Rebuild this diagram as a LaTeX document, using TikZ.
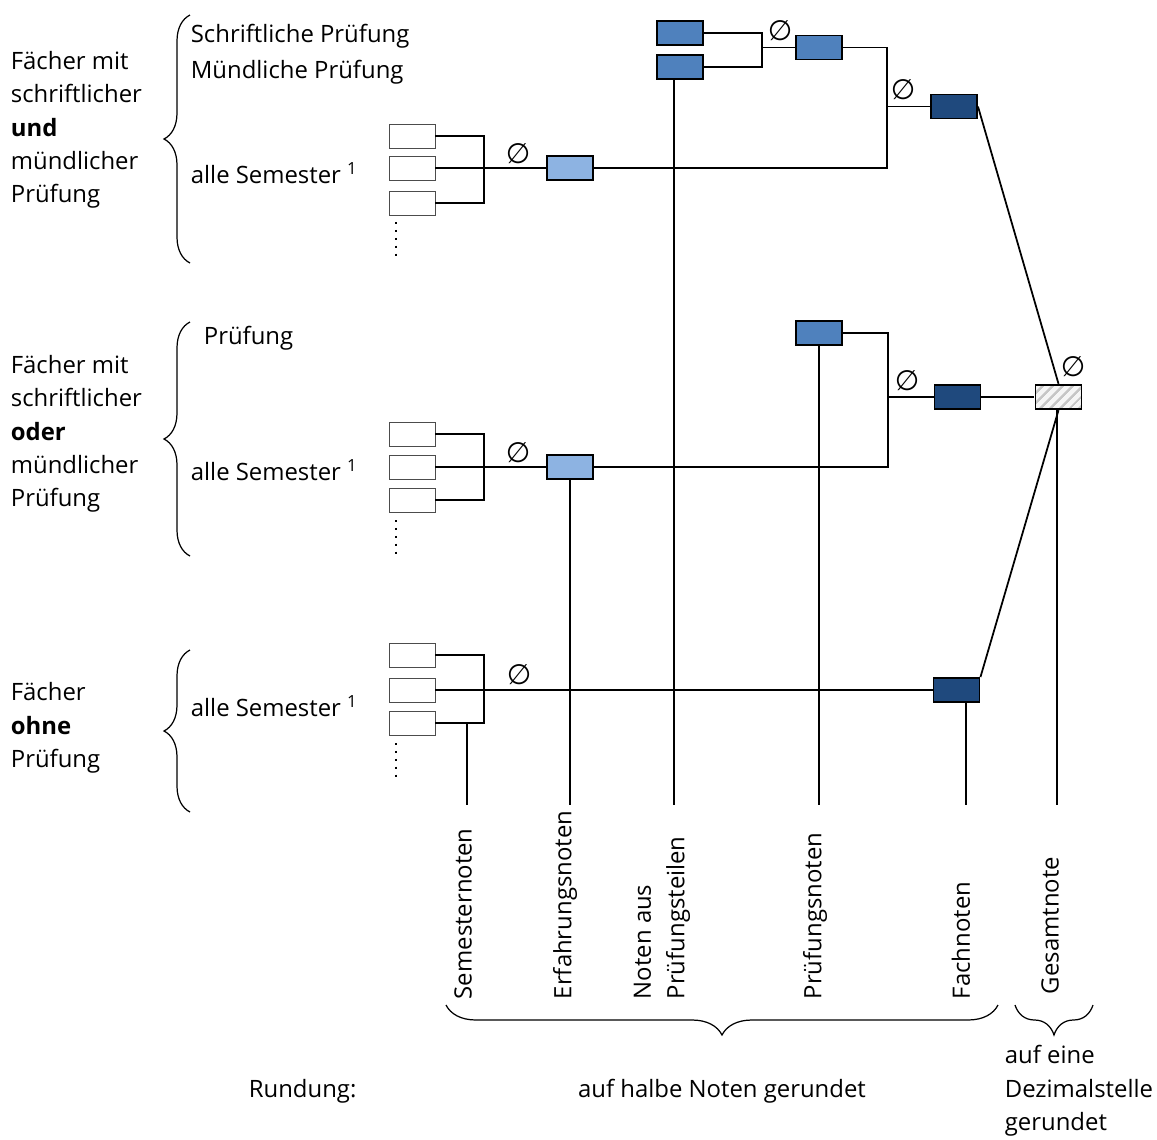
\documentclass[tikz,border=0pt]{standalone}
\usepackage{fontspec}
\setmainfont{Open Sans}
\newfontfamily\symfont{DejaVu Sans}
\usepackage{xcolor}
\usetikzlibrary{decorations.pathreplacing,patterns.meta}

\definecolor{hellblau}{HTML}{8DB3E2}
\definecolor{mittelblau}{HTML}{4F81BD}
\definecolor{dunkelblau}{HTML}{1F497D}

\begin{document}
\begin{tikzpicture}[
    x=0.02cm, y=-0.02cm,
    every node/.style={font=\fontsize{13.6}{19}\selectfont, inner sep=0pt},
    every path/.style={line width=1pt},
    semester/.style={draw=black!70, fill=white, line width=0.5pt, minimum width=0.92cm, minimum height=0.48cm},
    notebox/.style={draw=black, line width=1.1pt, minimum width=0.92cm, minimum height=0.48cm},
    erfahrung/.style={notebox, fill=hellblau},
    pruefung/.style={notebox, fill=mittelblau},
    fach/.style={notebox, fill=dunkelblau},
    gesamt/.style={notebox, preaction={fill=gray!8}, pattern={Lines[angle=45, distance=4pt, line width=1.4pt]}, pattern color=gray!45},
    avg/.style={font=\symfont\fontsize{16}{16}\selectfont},
    punkte/.style={line width=1.3pt, dash pattern=on 1.3pt off 3.2pt},
    klammer/.style={decorate, decoration={brace, amplitude=0.52cm}, line width=0.7pt},
    unterklammer/.style={decorate, decoration={brace, amplitude=0.6cm}, line width=0.7pt}
]
\useasboundingbox (0,0) rectangle (1157,1140);

% Gruppen links
\node[anchor=west, align=left] (t1) at (10,130) {F\"acher mit\\schriftlicher\\\textbf{und}\\m\"undlicher\\Pr\"ufung};
\node[anchor=west, align=left] (t2) at (10,434) {F\"acher mit\\schriftlicher\\\textbf{oder}\\m\"undlicher\\Pr\"ufung};
\node[anchor=west, align=left] (t3) at (10,728) {F\"acher\\\textbf{ohne}\\Pr\"ufung};
\draw[klammer] (190,263) -- (190,15);
\draw[klammer] (190,556) -- (190,322);
\draw[klammer] (190,812) -- (190,650);

% Texte in den Klammern
\node[anchor=west] (schr) at (190,36) {Schriftliche Pr\"ufung};
\node[anchor=west] (muen) at (190,72) {M\"undliche Pr\"ufung};
\node[anchor=west] (sem1) at (190,173) {alle Semester \textsuperscript{1}};
\node[anchor=west] (pr2) at (203,338) {Pr\"ufung};
\node[anchor=west] (sem2) at (190,470) {alle Semester \textsuperscript{1}};
\node[anchor=west] (sem3) at (190,706) {alle Semester \textsuperscript{1}};

% Semesternoten
\node[semester] (s11) at (412,136) {};
\node[semester] (s12) at (412,168) {};
\node[semester] (s13) at (412,203) {};
\node[semester] (s21) at (412,434) {};
\node[semester] (s22) at (412,467) {};
\node[semester] (s23) at (412,500) {};
\node[semester] (s31) at (412,655) {};
\node[semester] (s32) at (412,690) {};
\node[semester] (s33) at (412,723) {};
\draw[punkte] (396,222) -- (396,256);
\draw[punkte] (396,520) -- (396,554);
\draw[punkte] (396,743) -- (396,777);

% Erfahrungs-, Pruefungs- und Fachnoten
\node[erfahrung] (e1) at (570,168) {};
\node[erfahrung] (e2) at (570,467) {};
\node[pruefung] (p11) at (680,33) {};
\node[pruefung] (p12) at (680,67) {};
\node[pruefung] (p1) at (819,47.5) {};
\node[pruefung] (p2) at (819,333) {};
\node[fach] (f1) at (954,106.5) {};
\node[fach] (f2) at (957.5,397) {};
\node[fach] (f3) at (956.5,690) {};
\node[gesamt] (g) at (1058.5,397) {};

% Knoten der Verbindungen
\coordinate (k11) at (484,168);
\coordinate (k21) at (484,467);
\coordinate (k31) at (484,690);
\coordinate (kt) at (762,47.5);
\coordinate (k1) at (887,106.5);
\coordinate (k2) at (888,397);
\coordinate (uSem) at (467,805);
\coordinate (uErf) at (570,805);
\coordinate (uTeil) at (674,805);
\coordinate (uPruef) at (819,805);
\coordinate (uFach) at (966,805);
\coordinate (uGes) at (1057,805);

% Verbindungen
\draw (s11.east) -| (k11) |- (s13.east);
\draw (s12.east) -- (e1.west);
\draw (s21.east) -| (k21) |- (s23.east);
\draw (s22.east) -- (e2.west);
\draw (s31.east) -| (k31) |- (s33.east);
\draw (s32.east) -- (f3.west);
\draw (p11.east) -| (kt) |- (p12.east);
\draw (kt) -- (p1.west);
\draw (p1.east) -| (k1) |- (e1.east);
\draw (k1) -- (f1.west);
\draw (p2.east) -| (k2) |- (e2.east);
\draw (k2) -- (f2.west);
\draw (f1.east) -- (g.north);
\draw (f2.east) -- (g.west);
\draw (f3.north east) -- (g.south);

% Linien nach unten
\draw (s33.east -| uSem) -- (uSem);
\draw (e2.south) -- (uErf);
\draw (p12.south -| uTeil) -- (uTeil);
\draw (p2.south) -- (uPruef);
\draw (f3.south -| uFach) -- (uFach);
\draw (g.south -| uGes) -- (uGes);

% Mittelwerte
\node[avg] (a1) at (518,154) {∅};
\node[avg] (a2) at (518,453) {∅};
\node[avg] (a3) at (519,675) {∅};
\node[avg] (a4) at (780,31) {∅};
\node[avg] (a5) at (903,90) {∅};
\node[avg] (a6) at (907,381) {∅};
\node[avg] (a7) at (1073,367) {∅};

% Beschriftung unten
\node[rotate=90, anchor=west] (lSem) at (463,1000) {Semesternoten};
\node[rotate=90, anchor=west] (lErf) at (565,1000) {Erfahrungsnoten};
\node[rotate=90, anchor=west, align=left] (lTeil) at (662,1000) {Noten aus\\Pr\"ufungsteilen};
\node[rotate=90, anchor=west] (lPruef) at (815,1000) {Pr\"ufungsnoten};
\node[rotate=90, anchor=west] (lFach) at (961,1000) {Fachnoten};
\node[rotate=90, anchor=west] (lGes) at (1050,995) {Gesamtnote};
\draw[unterklammer] (998,1005) -- (446,1005);
\draw[unterklammer] (1093,1005) -- (1015,1005);

% Rundung
\node[anchor=west] (rund) at (248,1091) {Rundung:};
\node (halb) at (722,1091) {auf halbe Noten gerundet};
\node[anchor=west, align=left] (dez) at (1004,1091) {auf eine\\Dezimalstelle\\gerundet};

\end{tikzpicture}
\end{document}
